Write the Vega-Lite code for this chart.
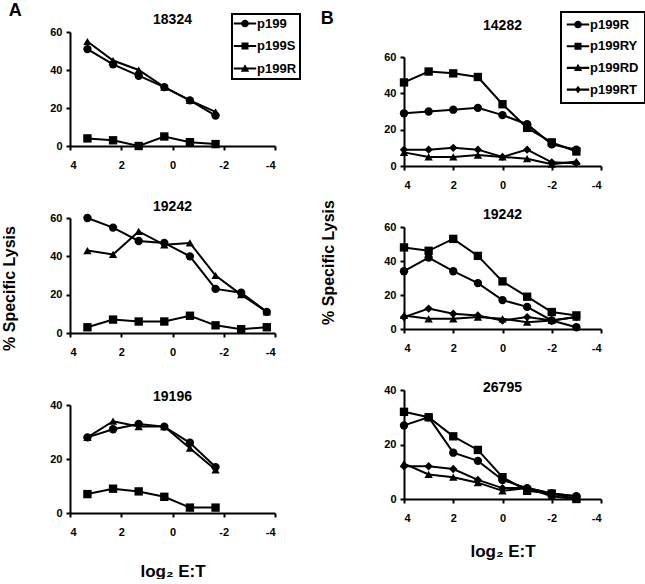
{
  "$schema": "https://vega.github.io/schema/vega-lite/v6.json",
  "padding": {"left": 1, "top": 2, "right": 0, "bottom": 0},
  "background": "white",
  "datasets": {
    "a1": [
      {"x": 3.32, "y": 51, "s": "p199"}, {"x": 2.32, "y": 43, "s": "p199"}, {"x": 1.32, "y": 37, "s": "p199"}, {"x": 0.32, "y": 31, "s": "p199"}, {"x": -0.68, "y": 24, "s": "p199"}, {"x": -1.68, "y": 16, "s": "p199"},
      {"x": 3.32, "y": 4, "s": "p199S"}, {"x": 2.32, "y": 3, "s": "p199S"}, {"x": 1.32, "y": 0, "s": "p199S"}, {"x": 0.32, "y": 5, "s": "p199S"}, {"x": -0.68, "y": 2, "s": "p199S"}, {"x": -1.68, "y": 1, "s": "p199S"},
      {"x": 3.32, "y": 55, "s": "p199R"}, {"x": 2.32, "y": 45, "s": "p199R"}, {"x": 1.32, "y": 40, "s": "p199R"}, {"x": 0.32, "y": 31, "s": "p199R"}, {"x": -0.68, "y": 24, "s": "p199R"}, {"x": -1.68, "y": 18, "s": "p199R"}
    ],
    "a2": [
      {"x": 3.32, "y": 60, "s": "p199"}, {"x": 2.32, "y": 55, "s": "p199"}, {"x": 1.32, "y": 48, "s": "p199"}, {"x": 0.32, "y": 47, "s": "p199"}, {"x": -0.68, "y": 40, "s": "p199"}, {"x": -1.68, "y": 23, "s": "p199"}, {"x": -2.68, "y": 21, "s": "p199"}, {"x": -3.68, "y": 11, "s": "p199"},
      {"x": 3.32, "y": 3, "s": "p199S"}, {"x": 2.32, "y": 7, "s": "p199S"}, {"x": 1.32, "y": 6, "s": "p199S"}, {"x": 0.32, "y": 6, "s": "p199S"}, {"x": -0.68, "y": 9, "s": "p199S"}, {"x": -1.68, "y": 4, "s": "p199S"}, {"x": -2.68, "y": 2, "s": "p199S"}, {"x": -3.68, "y": 3, "s": "p199S"},
      {"x": 3.32, "y": 43, "s": "p199R"}, {"x": 2.32, "y": 41, "s": "p199R"}, {"x": 1.32, "y": 53, "s": "p199R"}, {"x": 0.32, "y": 46, "s": "p199R"}, {"x": -0.68, "y": 47, "s": "p199R"}, {"x": -1.68, "y": 30, "s": "p199R"}, {"x": -2.68, "y": 20, "s": "p199R"}, {"x": -3.68, "y": 11, "s": "p199R"}
    ],
    "a3": [
      {"x": 3.32, "y": 28, "s": "p199"}, {"x": 2.32, "y": 31, "s": "p199"}, {"x": 1.32, "y": 33, "s": "p199"}, {"x": 0.32, "y": 32, "s": "p199"}, {"x": -0.68, "y": 26, "s": "p199"}, {"x": -1.68, "y": 17, "s": "p199"},
      {"x": 3.32, "y": 7, "s": "p199S"}, {"x": 2.32, "y": 9, "s": "p199S"}, {"x": 1.32, "y": 8, "s": "p199S"}, {"x": 0.32, "y": 6, "s": "p199S"}, {"x": -0.68, "y": 2, "s": "p199S"}, {"x": -1.68, "y": 2, "s": "p199S"},
      {"x": 3.32, "y": 28, "s": "p199R"}, {"x": 2.32, "y": 34, "s": "p199R"}, {"x": 1.32, "y": 32, "s": "p199R"}, {"x": 0.32, "y": 32, "s": "p199R"}, {"x": -0.68, "y": 24, "s": "p199R"}, {"x": -1.68, "y": 16, "s": "p199R"}
    ],
    "b1": [
      {"x": 4, "y": 29, "s": "p199R"}, {"x": 3, "y": 30, "s": "p199R"}, {"x": 2, "y": 31, "s": "p199R"}, {"x": 1, "y": 32, "s": "p199R"}, {"x": 0, "y": 28, "s": "p199R"}, {"x": -1, "y": 23, "s": "p199R"}, {"x": -2, "y": 12, "s": "p199R"}, {"x": -3, "y": 9, "s": "p199R"},
      {"x": 4, "y": 46, "s": "p199RY"}, {"x": 3, "y": 52, "s": "p199RY"}, {"x": 2, "y": 51, "s": "p199RY"}, {"x": 1, "y": 49, "s": "p199RY"}, {"x": 0, "y": 34, "s": "p199RY"}, {"x": -1, "y": 21, "s": "p199RY"}, {"x": -2, "y": 13, "s": "p199RY"}, {"x": -3, "y": 8, "s": "p199RY"},
      {"x": 4, "y": 7.5, "s": "p199RD"}, {"x": 3, "y": 5, "s": "p199RD"}, {"x": 2, "y": 5, "s": "p199RD"}, {"x": 1, "y": 6, "s": "p199RD"}, {"x": 0, "y": 5, "s": "p199RD"}, {"x": -1, "y": 4, "s": "p199RD"}, {"x": -2, "y": 1, "s": "p199RD"}, {"x": -3, "y": 2.5, "s": "p199RD"},
      {"x": 4, "y": 9, "s": "p199RT"}, {"x": 3, "y": 9, "s": "p199RT"}, {"x": 2, "y": 10, "s": "p199RT"}, {"x": 1, "y": 9, "s": "p199RT"}, {"x": 0, "y": 5, "s": "p199RT"}, {"x": -1, "y": 9, "s": "p199RT"}, {"x": -2, "y": 2, "s": "p199RT"}, {"x": -3, "y": 1.5, "s": "p199RT"}
    ],
    "b2": [
      {"x": 4, "y": 34, "s": "p199R"}, {"x": 3, "y": 42, "s": "p199R"}, {"x": 2, "y": 34, "s": "p199R"}, {"x": 1, "y": 27, "s": "p199R"}, {"x": 0, "y": 17, "s": "p199R"}, {"x": -1, "y": 13, "s": "p199R"}, {"x": -2, "y": 5, "s": "p199R"}, {"x": -3, "y": 1, "s": "p199R"},
      {"x": 4, "y": 48, "s": "p199RY"}, {"x": 3, "y": 46, "s": "p199RY"}, {"x": 2, "y": 53, "s": "p199RY"}, {"x": 1, "y": 43, "s": "p199RY"}, {"x": 0, "y": 28, "s": "p199RY"}, {"x": -1, "y": 19, "s": "p199RY"}, {"x": -2, "y": 10, "s": "p199RY"}, {"x": -3, "y": 8, "s": "p199RY"},
      {"x": 4, "y": 8, "s": "p199RD"}, {"x": 3, "y": 6, "s": "p199RD"}, {"x": 2, "y": 6, "s": "p199RD"}, {"x": 1, "y": 7, "s": "p199RD"}, {"x": 0, "y": 6, "s": "p199RD"}, {"x": -1, "y": 4, "s": "p199RD"}, {"x": -2, "y": 5, "s": "p199RD"}, {"x": -3, "y": 7, "s": "p199RD"},
      {"x": 4, "y": 7, "s": "p199RT"}, {"x": 3, "y": 12, "s": "p199RT"}, {"x": 2, "y": 9, "s": "p199RT"}, {"x": 1, "y": 8, "s": "p199RT"}, {"x": 0, "y": 5, "s": "p199RT"}, {"x": -1, "y": 7, "s": "p199RT"}, {"x": -2, "y": 5, "s": "p199RT"}, {"x": -3, "y": 7, "s": "p199RT"}
    ],
    "b3": [
      {"x": 4, "y": 27, "s": "p199R"}, {"x": 3, "y": 30, "s": "p199R"}, {"x": 2, "y": 17, "s": "p199R"}, {"x": 1, "y": 14, "s": "p199R"}, {"x": 0, "y": 7, "s": "p199R"}, {"x": -1, "y": 4, "s": "p199R"}, {"x": -2, "y": 2, "s": "p199R"}, {"x": -3, "y": 1, "s": "p199R"},
      {"x": 4, "y": 32, "s": "p199RY"}, {"x": 3, "y": 30, "s": "p199RY"}, {"x": 2, "y": 23, "s": "p199RY"}, {"x": 1, "y": 18, "s": "p199RY"}, {"x": 0, "y": 8, "s": "p199RY"}, {"x": -1, "y": 3, "s": "p199RY"}, {"x": -2, "y": 2, "s": "p199RY"}, {"x": -3, "y": 0, "s": "p199RY"},
      {"x": 4, "y": 13, "s": "p199RD"}, {"x": 3, "y": 9, "s": "p199RD"}, {"x": 2, "y": 8, "s": "p199RD"}, {"x": 1, "y": 6, "s": "p199RD"}, {"x": 0, "y": 3, "s": "p199RD"}, {"x": -1, "y": 4, "s": "p199RD"}, {"x": -2, "y": 1, "s": "p199RD"}, {"x": -3, "y": 0, "s": "p199RD"},
      {"x": 4, "y": 12, "s": "p199RT"}, {"x": 3, "y": 12, "s": "p199RT"}, {"x": 2, "y": 11, "s": "p199RT"}, {"x": 1, "y": 7, "s": "p199RT"}, {"x": 0, "y": 4, "s": "p199RT"}, {"x": -1, "y": 4, "s": "p199RT"}, {"x": -2, "y": 2, "s": "p199RT"}, {"x": -3, "y": 1, "s": "p199RT"}
    ]
  },
  "config": {
    "font": "Liberation Sans",
    "view": {"stroke": null},
    "axis": {
      "grid": false, "domainColor": "#000", "domainWidth": 2, "tickColor": "#000", "tickWidth": 2, "tickSize": 4,
      "labelFont": "Liberation Sans", "labelFontSize": 11, "labelFontWeight": "bold", "labelColor": "#000", "labelPadding": 4,
      "titleFont": "Liberation Sans", "titleFontSize": 16, "titleFontWeight": "bold", "titleColor": "#000"
    },
    "axisX": {"labelPadding": 9},
    "title": {"font": "Liberation Sans", "fontSize": 14, "fontWeight": "bold", "color": "#000", "baseline": "alphabetic", "frame": "group"},
    "legend": {"labelFont": "Liberation Sans", "labelFontSize": 13, "labelFontWeight": "bold", "labelColor": "#000", "strokeColor": "#000", "strokeWidth": 2,
      "symbolOpacity": 1, "symbolFillColor": "#000", "symbolStrokeColor": "#000", "symbolStrokeWidth": 0, "symbolSize": 49}
  },
  "resolve": {"scale": {"shape": "independent"}, "legend": {"shape": "independent"}},
  "spacing": 19,
  "hconcat": [
    {
      "title": {"text": "A", "anchor": "start", "fontSize": 18, "baseline": "alphabetic", "offset": -21, "dx": 7, "frame": "bounds"},
      "spacing": 72,
      "bounds": "flush",
      "resolve": {"scale": {"shape": "independent", "x": "independent", "y": "independent"}, "legend": {"shape": "independent"}},
      "vconcat": [
        {
          "title": {"text": "18324", "offset": -14}, "width": 205, "height": 114, "data": {"name": "a1"},
          "encoding": {
            "x": {"field": "x", "type": "quantitative", "scale": {"domain": [-4, 4], "reverse": true, "nice": false}, "axis": {"title": null, "values": [4, 2, 0, -2, -4], "labelExpr": "'' + datum.value"}},
            "y": {"field": "y", "type": "quantitative", "scale": {"domain": [0, 60], "nice": false}, "axis": {"title": null, "values": [0, 20, 40, 60]}}
          },
          "resolve": {"scale": {"shape": "independent"}, "legend": {"shape": "independent"}},
          "layer": [
            {"mark": {"type": "line", "color": "#000", "strokeWidth": 2}, "encoding": {"detail": {"field": "s"}}},
            {"mark": {"type": "point", "filled": true, "color": "#000", "size": 70, "opacity": 1},
             "encoding": {"shape": {"field": "s", "type": "nominal", "scale": {"domain": ["p199", "p199S", "p199R"], "range": ["circle", "square", "triangle-up"]}, "legend": null}}},
            {"mark": {"type": "point", "filled": true, "color": "#000", "size": 49, "opacity": 0},
             "encoding": {"shape": {"field": "s", "type": "nominal",
               "scale": {"domain": ["p199", "p199S", "p199R"], "range": ["M-3.2,-0.3H3.2V0.3H-3.2ZM1.1,0A1.1,1.1,0,1,1,-1.1,0A1.1,1.1,0,1,1,1.1,0Z", "M-3.2,-0.3H3.2V0.3H-3.2ZM-1,-1H1V1H-1Z", "M-3.2,-0.3H3.2V0.3H-3.2ZM0,-1.2L1.2,0.9H-1.2Z"]},
               "legend": {"orient": "none", "legendX": 162, "legendY": -18, "title": null, "padding": 3, "rowPadding": 8.5, "symbolOffset": 3.5, "labelOffset": 5.5, "symbolOpacity": 1}}}}
          ]
        },
        {
          "title": {"text": "19242", "offset": -1.5}, "width": 205, "height": 115, "data": {"name": "a2"},
          "encoding": {
            "x": {"field": "x", "type": "quantitative", "scale": {"domain": [-4, 4], "reverse": true, "nice": false}, "axis": {"title": null, "values": [4, 2, 0, -2, -4], "labelExpr": "'' + datum.value"}},
            "y": {"field": "y", "type": "quantitative", "scale": {"domain": [0, 60], "nice": false}, "axis": {"title": "% Specific Lysis", "titlePadding": 32, "titleY": 70, "values": [0, 20, 40, 60]}}
          },
          "layer": [
            {"mark": {"type": "line", "color": "#000", "strokeWidth": 2}, "encoding": {"detail": {"field": "s"}}},
            {"mark": {"type": "point", "filled": true, "color": "#000", "size": 70, "opacity": 1},
             "encoding": {"shape": {"field": "s", "type": "nominal", "scale": {"domain": ["p199", "p199S", "p199R"], "range": ["circle", "square", "triangle-up"]}, "legend": null}}}
          ]
        },
        {
          "title": {"text": "19196", "offset": -4.5}, "width": 205, "height": 108, "data": {"name": "a3"},
          "encoding": {
            "x": {"field": "x", "type": "quantitative", "scale": {"domain": [-4, 4], "reverse": true, "nice": false}, "axis": {"title": "log₂ E:T", "titleFontSize": 17, "titlePadding": 26, "values": [4, 2, 0, -2, -4], "labelExpr": "'' + datum.value"}},
            "y": {"field": "y", "type": "quantitative", "scale": {"domain": [0, 40], "nice": false}, "axis": {"title": null, "values": [0, 20, 40]}}
          },
          "layer": [
            {"mark": {"type": "line", "color": "#000", "strokeWidth": 2}, "encoding": {"detail": {"field": "s"}}},
            {"mark": {"type": "point", "filled": true, "color": "#000", "size": 70, "opacity": 1},
             "encoding": {"shape": {"field": "s", "type": "nominal", "scale": {"domain": ["p199", "p199S", "p199R"], "range": ["circle", "square", "triangle-up"]}, "legend": null}}}
          ]
        }
      ]
    },
    {
      "title": {"text": "B", "anchor": "start", "fontSize": 18, "baseline": "alphabetic", "offset": -31, "frame": "bounds"},
      "spacing": 24,
      "bounds": "flush",
      "resolve": {"scale": {"shape": "independent", "x": "independent", "y": "independent"}, "legend": {"shape": "independent"}},
      "vconcat": [
        {"width": 197, "height": 1, "data": {"values": []}, "mark": {"type": "point", "opacity": 0}},
        {
          "spacing": 61,
          "bounds": "flush",
          "resolve": {"scale": {"shape": "independent", "x": "independent", "y": "independent"}, "legend": {"shape": "independent"}},
          "vconcat": [
            {
              "title": {"text": "14282", "offset": -22}, "width": 197, "height": 109, "data": {"name": "b1"},
              "encoding": {
                "x": {"field": "x", "type": "quantitative", "scale": {"domain": [-4, 4], "reverse": true, "nice": false}, "axis": {"title": null, "values": [4, 2, 0, -2, -4], "labelExpr": "'' + datum.value"}},
                "y": {"field": "y", "type": "quantitative", "scale": {"domain": [0, 60], "nice": false}, "axis": {"title": null, "values": [0, 20, 40, 60]}}
              },
              "resolve": {"scale": {"shape": "independent"}, "legend": {"shape": "independent"}},
              "layer": [
                {"mark": {"type": "line", "color": "#000", "strokeWidth": 2}, "encoding": {"detail": {"field": "s"}}},
                {"mark": {"type": "point", "filled": true, "color": "#000", "size": 70, "opacity": 1},
                 "encoding": {"shape": {"field": "s", "type": "nominal", "scale": {"domain": ["p199R", "p199RY", "p199RD", "p199RT"], "range": ["circle", "square", "triangle-up", "diamond"]}, "legend": null}}},
                {"mark": {"type": "point", "filled": true, "color": "#000", "size": 49, "opacity": 0},
                 "encoding": {"shape": {"field": "s", "type": "nominal",
                   "scale": {"domain": ["p199R", "p199RY", "p199RD", "p199RT"], "range": ["M-3.2,-0.3H3.2V0.3H-3.2ZM1.1,0A1.1,1.1,0,1,1,-1.1,0A1.1,1.1,0,1,1,1.1,0Z", "M-3.2,-0.3H3.2V0.3H-3.2ZM-1,-1H1V1H-1Z", "M-3.2,-0.3H3.2V0.3H-3.2ZM0,-1.2L1.2,0.9H-1.2Z", "M-3.2,-0.3H3.2V0.3H-3.2ZM0,-1.1L0.8,0L0,1.1L-0.8,0Z"]},
                   "legend": {"orient": "none", "legendX": 157, "legendY": -45, "title": null, "padding": 6, "rowPadding": 7.7, "symbolOffset": 4.5, "labelOffset": 5.5, "symbolOpacity": 1}}}}
              ]
            },
            {
              "title": {"text": "19242", "offset": -22}, "width": 197, "height": 102, "data": {"name": "b2"},
              "encoding": {
                "x": {"field": "x", "type": "quantitative", "scale": {"domain": [-4, 4], "reverse": true, "nice": false}, "axis": {"title": null, "values": [4, 2, 0, -2, -4], "labelExpr": "'' + datum.value"}},
                "y": {"field": "y", "type": "quantitative", "scale": {"domain": [0, 60], "nice": false}, "axis": {"title": "% Specific Lysis", "titlePadding": 47, "titleY": 35, "values": [0, 20, 40, 60]}}
              },
              "layer": [
                {"mark": {"type": "line", "color": "#000", "strokeWidth": 2}, "encoding": {"detail": {"field": "s"}}},
                {"mark": {"type": "point", "filled": true, "color": "#000", "size": 70, "opacity": 1},
                 "encoding": {"shape": {"field": "s", "type": "nominal", "scale": {"domain": ["p199R", "p199RY", "p199RD", "p199RT"], "range": ["circle", "square", "triangle-up", "diamond"]}, "legend": null}}}
              ]
            },
            {
              "title": {"text": "26795", "offset": -10.5}, "width": 197, "height": 109, "data": {"name": "b3"},
              "encoding": {
                "x": {"field": "x", "type": "quantitative", "scale": {"domain": [-4, 4], "reverse": true, "nice": false}, "axis": {"title": "log₂ E:T", "titleFontSize": 17, "titlePadding": 20, "values": [4, 2, 0, -2, -4], "labelExpr": "'' + datum.value"}},
                "y": {"field": "y", "type": "quantitative", "scale": {"domain": [0, 40], "nice": false}, "axis": {"title": null, "values": [0, 20, 40]}}
              },
              "layer": [
                {"mark": {"type": "line", "color": "#000", "strokeWidth": 2}, "encoding": {"detail": {"field": "s"}}},
                {"mark": {"type": "point", "filled": true, "color": "#000", "size": 70, "opacity": 1},
                 "encoding": {"shape": {"field": "s", "type": "nominal", "scale": {"domain": ["p199R", "p199RY", "p199RD", "p199RT"], "range": ["circle", "square", "triangle-up", "diamond"]}, "legend": null}}}
              ]
            }
          ]
        }
      ]
    }
  ]
}
